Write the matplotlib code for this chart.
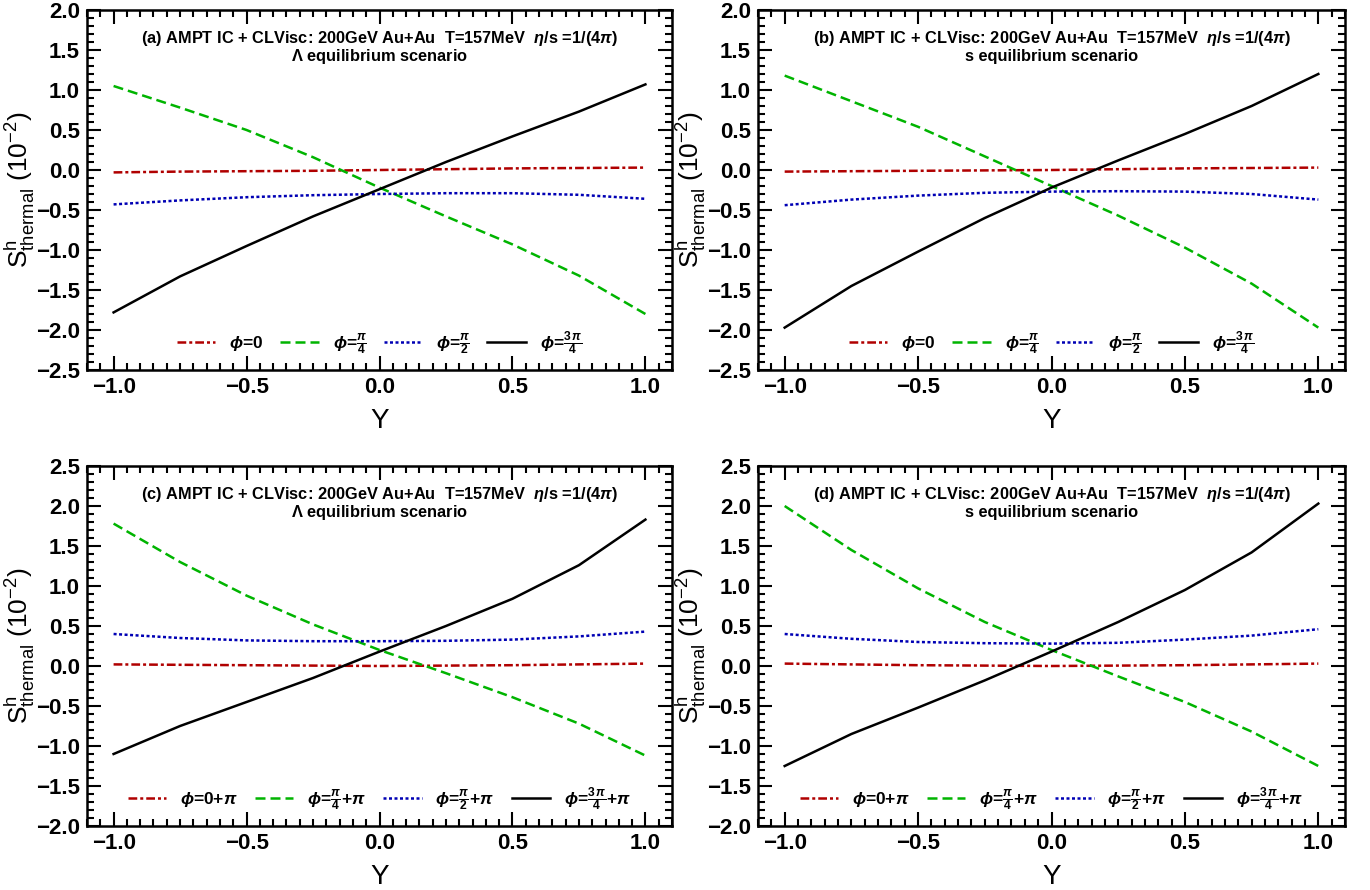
import matplotlib
matplotlib.use("Agg")
import matplotlib.pyplot as plt
from matplotlib.ticker import MultipleLocator

plt.rcParams['font.family'] = ['Liberation Sans', 'DejaVu Sans']
plt.rcParams['mathtext.fontset'] = 'custom'
plt.rcParams['mathtext.rm'] = 'Liberation Sans:weight=bold'
plt.rcParams['mathtext.bf'] = 'Liberation Sans:weight=bold'
plt.rcParams['mathtext.it'] = 'Liberation Sans:style=italic:weight=bold'
plt.rcParams['mathtext.sf'] = 'Liberation Sans:weight=normal'

# rapidity grid
Y = [-1.0, -0.75, -0.5, -0.25, 0.0, 0.25, 0.5, 0.75, 1.0]

# (a) Lambda equilibrium, phi = 0, pi/4, pi/2, 3pi/4
a_phi0 = [-0.03, -0.02, -0.015, -0.01, 0.0, 0.01, 0.02, 0.025, 0.03]
a_phi1 = [1.05, 0.78, 0.50, 0.16, -0.22, -0.58, -0.93, -1.32, -1.80]
a_phi2 = [-0.43, -0.38, -0.34, -0.315, -0.30, -0.29, -0.29, -0.31, -0.36]
a_phi3 = [-1.78, -1.33, -0.95, -0.58, -0.24, 0.10, 0.42, 0.73, 1.07]

# (b) s equilibrium
b_phi0 = [-0.02, -0.015, -0.01, -0.005, 0.0, 0.01, 0.02, 0.025, 0.03]
b_phi1 = [1.18, 0.86, 0.54, 0.17, -0.20, -0.57, -0.97, -1.42, -1.97]
b_phi2 = [-0.44, -0.37, -0.32, -0.285, -0.27, -0.265, -0.27, -0.30, -0.37]
b_phi3 = [-1.97, -1.45, -1.02, -0.60, -0.22, 0.12, 0.45, 0.80, 1.20]

# (c) Lambda equilibrium, phi + pi
c_phi0 = [0.02, 0.015, 0.01, 0.005, 0.0, 0.005, 0.01, 0.02, 0.03]
c_phi1 = [1.78, 1.30, 0.88, 0.52, 0.20, -0.09, -0.39, -0.72, -1.12]
c_phi2 = [0.40, 0.35, 0.32, 0.31, 0.31, 0.315, 0.33, 0.37, 0.43]
c_phi3 = [-1.10, -0.75, -0.45, -0.15, 0.18, 0.50, 0.84, 1.26, 1.83]

# (d) s equilibrium, phi + pi
d_phi0 = [0.03, 0.02, 0.01, 0.005, 0.0, 0.005, 0.01, 0.02, 0.03]
d_phi1 = [2.00, 1.45, 0.97, 0.55, 0.20, -0.13, -0.45, -0.82, -1.25]
d_phi2 = [0.40, 0.34, 0.30, 0.285, 0.28, 0.29, 0.33, 0.38, 0.46]
d_phi3 = [-1.25, -0.85, -0.52, -0.18, 0.18, 0.55, 0.95, 1.42, 2.03]

labels_top = [r'$\phi$=0', r'$\phi$=$\frac{\pi}{4}$', r'$\phi$=$\frac{\pi}{2}$',
              r'$\phi$=$\frac{3\,\pi}{4}$']
labels_bot = [r'$\phi$=0+$\pi$', r'$\phi$=$\frac{\pi}{4}$+$\pi$', r'$\phi$=$\frac{\pi}{2}$+$\pi$',
              r'$\phi$=$\frac{3\,\pi}{4}$+$\pi$']

panels = [
    ("(a)", r"$\Lambda$ equilibrium scenario", [a_phi0, a_phi1, a_phi2, a_phi3], labels_top, (-2.5, 2.0)),
    ("(b)", "s equilibrium scenario", [b_phi0, b_phi1, b_phi2, b_phi3], labels_top, (-2.5, 2.0)),
    ("(c)", r"$\Lambda$ equilibrium scenario", [c_phi0, c_phi1, c_phi2, c_phi3], labels_bot, (-2.0, 2.5)),
    ("(d)", "s equilibrium scenario", [d_phi0, d_phi1, d_phi2, d_phi3], labels_bot, (-2.0, 2.5)),
]

styles = [
    dict(color='#b00000', ls=(0, (3.5, 1.2, 1.2, 1.2))),
    dict(color='#00b400', ls=(0, (4, 2))),
    dict(color='#0000b4', ls=(0, (1.2, 1.0))),
    dict(color='black', ls='-'),
]

fig = plt.figure(figsize=(13.7, 8.9), dpi=100)
rects = [
    [87 / 1370, 520 / 890, 585 / 1370, 360 / 890],
    [758 / 1370, 520 / 890, 587 / 1370, 360 / 890],
    [87 / 1370, 64 / 890, 585 / 1370, 360 / 890],
    [758 / 1370, 64 / 890, 587 / 1370, 360 / 890],
]

for rect, (tag, scen, series, labels, ylim) in zip(rects, panels):
    ax = fig.add_axes(rect)
    for vals, st, lab in zip(series, styles, labels):
        ax.plot(Y, vals, lw=1.8, label=lab, **st)
    ax.set_xlim(-1.1, 1.1)
    ax.set_ylim(*ylim)
    ax.xaxis.set_major_locator(MultipleLocator(0.5))
    ax.xaxis.set_minor_locator(MultipleLocator(0.05))
    ax.yaxis.set_major_locator(MultipleLocator(0.5))
    ax.yaxis.set_minor_locator(MultipleLocator(0.1))
    ax.tick_params(which='both', direction='in', top=True, right=True, width=1.5)
    ax.tick_params(which='major', length=10, labelsize=16, pad=5)
    ax.tick_params(which='minor', length=5)
    for lbl in ax.get_xticklabels() + ax.get_yticklabels():
        lbl.set_fontweight('bold')
    for sp in ax.spines.values():
        sp.set_linewidth(1.8)
    ax.set_xlabel('Y', fontsize=20, labelpad=7)
    ax.set_ylabel(r'S$^{\mathsf{h}}_{\mathsf{thermal}}$ (10$^{\mathsf{-2}}$)', fontsize=19)
    ax.yaxis.set_label_coords(-0.085, 0.5)
    ax.text(0.5, 0.92, tag + r" AMPT IC + CLVisc: 200GeV Au+Au  T=157MeV  $\eta$/s =1/(4$\pi$)",
            transform=ax.transAxes, ha='center', va='center', fontsize=11.8, fontweight='bold')
    ax.text(0.5, 0.872, scen, transform=ax.transAxes, ha='center', va='center',
            fontsize=11.8, fontweight='bold')
    ax.legend(loc='center', bbox_to_anchor=(0.5, 0.075), ncol=4, frameon=False,
              handlelength=2.2, handletextpad=0.8, columnspacing=1.0,
              prop={'weight': 'bold', 'size': 12.5})

fig.savefig('out.png', dpi=100)
